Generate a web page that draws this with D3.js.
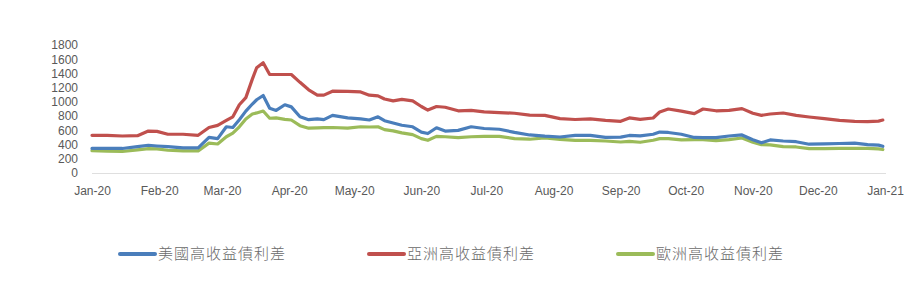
<!DOCTYPE html>
<html><head><meta charset="utf-8">
<script src="https://cdn.jsdelivr.net/npm/d3@7"></script>
<style>
html,body{margin:0;padding:0;background:#fff;}
svg{display:block;}
</style></head>
<body>
<svg id="chart" width="920" height="288"></svg>
<script>
const dates = ["2020-01-01","2020-01-08","2020-01-15","2020-01-22","2020-01-27","2020-01-31","2020-02-05","2020-02-12","2020-02-19","2020-02-24","2020-02-28","2020-03-03","2020-03-06","2020-03-09","2020-03-12","2020-03-15","2020-03-17","2020-03-20","2020-03-23","2020-03-26","2020-03-30","2020-04-02","2020-04-06","2020-04-10","2020-04-14","2020-04-17","2020-04-21","2020-04-28","2020-05-04","2020-05-08","2020-05-12","2020-05-15","2020-05-19","2020-05-23","2020-05-28","2020-06-01","2020-06-04","2020-06-08","2020-06-12","2020-06-18","2020-06-24","2020-06-30","2020-07-07","2020-07-14","2020-07-21","2020-07-28","2020-08-04","2020-08-11","2020-08-18","2020-08-25","2020-09-01","2020-09-05","2020-09-10","2020-09-16","2020-09-19","2020-09-23","2020-09-29","2020-10-05","2020-10-09","2020-10-15","2020-10-21","2020-10-27","2020-11-01","2020-11-05","2020-11-09","2020-11-15","2020-11-21","2020-11-27","2020-12-04","2020-12-11","2020-12-18","2020-12-24","2020-12-29","2020-12-31"];

const usSpread = [345,345,345,370,390,380,370,352,352,500,484,650,640,750,870,970,1030,1090,910,880,960,930,790,750,760,750,810,775,760,745,790,735,703,672,650,575,555,636,590,600,650,626,615,572,535,518,506,530,528,500,505,528,522,545,576,570,545,500,498,498,520,535,468,425,465,450,440,405,410,415,420,400,392,375];

const asiaSpread = [530,530,520,525,590,585,545,545,530,640,670,740,790,960,1060,1320,1480,1550,1385,1385,1385,1385,1275,1170,1095,1095,1150,1148,1140,1095,1085,1040,1015,1036,1015,935,885,935,925,875,880,860,850,840,815,811,765,752,762,740,727,775,755,773,858,900,870,835,900,875,880,905,840,811,830,844,811,788,765,740,725,723,730,745];

const euroSpread = [315,308,302,325,343,340,320,310,310,420,408,510,560,650,760,830,845,872,770,775,755,745,665,630,635,638,640,630,650,647,650,610,592,565,540,484,460,515,510,498,510,516,516,484,475,495,472,460,460,450,436,445,432,460,484,484,465,470,468,455,470,492,434,399,395,370,366,343,343,347,345,345,340,330];

const seriesNames = ["美國高收益債利差","亞洲高收益債利差","歐洲高收益債利差"];
const seriesColors = ["#4A7EBB","#C0504D","#9BBB59"];
const yTicks = [0,200,400,600,800,1000,1200,1400,1600,1800];

const svg = d3.select("#chart");
const parse = d3.timeParse("%Y-%m-%d");
const dts = dates.map(parse);

const x = d3.scaleTime().domain([parse("2020-01-01"), parse("2021-01-01")]).range([92, 885]);
const y = d3.scaleLinear().domain([0, 1800]).range([173, 45]);

const txt = "#595959";
const font = "'Liberation Sans', Arial, sans-serif";

// Y axis labels
const yAxis = d3.axisLeft(y).tickValues(yTicks).tickSize(0).tickPadding(0).tickFormat(d3.format("d"));
const yg = svg.append("g").attr("transform", "translate(78,0)").call(yAxis);
yg.select(".domain").remove();
yg.selectAll("text").attr("fill", txt).style("font-family", font).style("font-size", "12px");

// X axis baseline (dotted) and labels
const xAxis = d3.axisBottom(x).ticks(d3.timeMonth.every(1)).tickSize(0).tickPadding(13).tickFormat(d3.timeFormat("%b-%y"));
const xg = svg.append("g").attr("transform", "translate(0,173)").call(xAxis);
xg.select(".domain").attr("stroke", "#BFBFBF").attr("stroke-dasharray", "1,1").attr("stroke-width", 1);
xg.selectAll("text").attr("fill", txt).style("font-family", font).style("font-size", "12px");

// Lines
const allSeries = [usSpread, asiaSpread, euroSpread];
const line = d3.line().x((d, i) => x(dts[i])).y(d => y(d));
const drawOrder = [2, 0, 1];
drawOrder.forEach(k => {
  svg.append("path")
    .datum(allSeries[k])
    .attr("d", line)
    .attr("fill", "none")
    .attr("stroke", seriesColors[k])
    .attr("stroke-width", 3.2)
    .attr("stroke-linejoin", "round")
    .attr("stroke-linecap", "round");
});

// Legend
const legendX = [119, 368, 617];
const legY = 254;
seriesNames.forEach((name, k) => {
  const g = svg.append("g").attr("transform", `translate(${legendX[k]},${legY})`);
  g.append("line").attr("x1", 1).attr("x2", 36).attr("y1", 0).attr("y2", 0)
    .attr("stroke", seriesColors[k]).attr("stroke-width", 4).attr("stroke-linecap", "round");
  g.append("text").attr("x", 39).attr("y", 0).attr("dy", "0.35em")
    .attr("fill", "#6A6A6A")
    .style("font-family", "'Noto Sans CJK TC', 'Noto Sans CJK SC', sans-serif")
    .style("font-size", "15px").style("font-weight", "300").style("letter-spacing", "1px")
    .text(name);
});
</script>
</body></html>
